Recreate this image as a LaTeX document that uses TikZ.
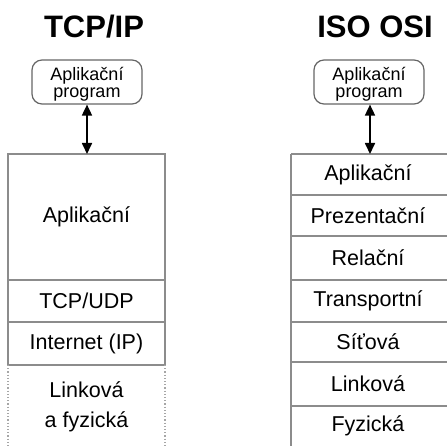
\documentclass[tikz,border=0pt]{standalone}
\usepackage{fontspec}
\setmainfont{Liberation Sans}
\usetikzlibrary{arrows.meta}
\begin{document}
\begin{tikzpicture}[x=1pt,y=-1pt,
  gline/.style={draw=black!45, line width=1.2pt},
  layertext/.style={inner sep=0pt, font=\fontsize{21.5}{30}\selectfont, align=center},
  title/.style={inner sep=0pt, font=\fontsize{31}{36}\selectfont\bfseries},
  progbox/.style={draw=black!60, line width=1.2pt, rounded corners=10pt, minimum width=110pt, minimum height=44pt, inner sep=0pt},
  progtext/.style={inner sep=0pt, align=center, font=\fontsize{18}{17}\selectfont},
  dblarrow/.style={line width=1.7pt, {Triangle[width=10pt,length=11pt]}-{Triangle[width=10pt,length=11pt]}}
]
\useasboundingbox (0,0) rectangle (447,446);

% titles
\node[title] (t1) at (94,27) {TCP/IP};
\node[title] (t2) at (375,27) {ISO OSI};

% program boxes
\node[progbox] (p1) at (87,82) {};
\node[progtext] (p1t) at ([yshift=-2pt]p1.center) {Aplikační\\program};
\node[progbox] (p2) at (369,82) {};
\node[progtext] (p2t) at ([yshift=-2pt]p2.center) {Aplikační\\program};

% left stack
\node[layertext] (la) at (86.5,217) {Aplikační};
\node[layertext] (lt) at (86.5,301) {TCP/UDP};
\node[layertext] (li) at (86.5,343.5) {Internet (IP)};
\node[layertext] (ll) at (86.5,407) {Linková\\a fyzická};
\coordinate (a1) at (87,154);
\draw[gline] (8,154) rectangle (165,280);
\draw[gline] (8,280) rectangle (165,322);
\draw[gline] (8,322) rectangle (165,365);
\draw[draw=black!35, line width=1.2pt, dotted] (8,365) -- (8,446);
\draw[draw=black!35, line width=1.2pt, dotted] (165,365) -- (165,446);

% right stack
\coordinate (a2) at (370,154);
\foreach \yy in {154,195,236,280,322,362,406} {
  \draw[gline] (291,\yy) -- (448,\yy);
}
\draw[gline] (291,154) -- (291,447);
\node[layertext] (r1) at (368,174.5) {Aplikační};
\node[layertext] (r2) at (368,215.5) {Prezentační};
\node[layertext] (r3) at (368,258) {Relační};
\node[layertext] (r4) at (368,301) {Transportní};
\node[layertext] (r5) at (368,342) {Síťová};
\node[layertext] (r6) at (368,384) {Linková};
\node[layertext] (r7) at (368,426) {Fyzická};

% arrows
\draw[dblarrow] (p1.south -| a1) -- (a1);
\draw[dblarrow] (p2.south -| a2) -- (a2);
\end{tikzpicture}
\end{document}
